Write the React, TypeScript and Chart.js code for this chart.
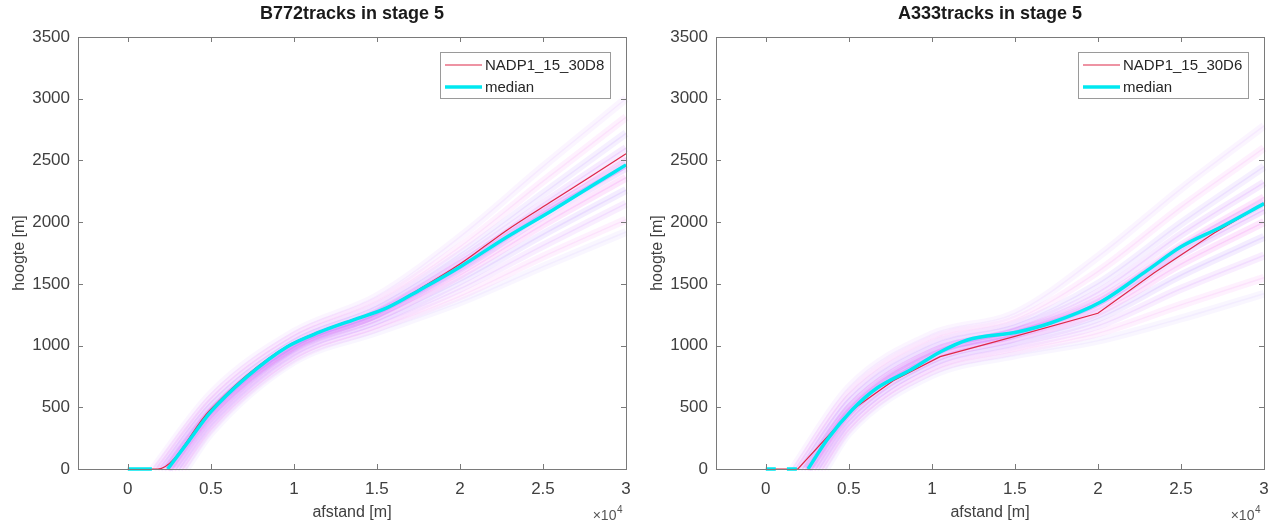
import React, { useEffect, useRef } from 'react';
import { Chart, registerables } from 'chart.js';

Chart.register(...registerables);

// ---------- shared axis data ----------
const X_MIN = -3000;
const X_MAX = 30000;
const X_TICKS = [0, 5000, 10000, 15000, 20000, 25000, 30000];
const Y_MIN = 0;
const Y_MAX = 3500;
const Y_STEP = 500;
const X_LABEL = 'afstand [m]';
const Y_LABEL = 'hoogte [m]';
const MEDIAN_LABEL = 'median';
// x positions shared by the individual track samples
const FAN_X = [5000, 10000, 15000, 20000, 25000, 30000];

// ---------- B772 ----------
const B772_TITLE = 'B772tracks in stage 5';
const B772_NADP_LABEL = 'NADP1_15_30D8';
const B772_MEDIAN_X = [0, 1450, 1900, 2400, 3700, 4940, 7170, 9580, 11570, 13550, 15600, 17590, 20000, 22830, 25600, 27830, 30000];
const B772_MEDIAN_Y = [0, 0, null, 0, 232, 454, 746, 989, 1110, 1207, 1305, 1451, 1637, 1880, 2099, 2285, 2464];
const B772_NADP_X = [0, 1800, 4900, 7170, 9580, 11570, 13550, 15600, 17590, 20000, 22830, 25600, 27830, 30000];
const B772_NADP_Y = [0, 0, 470, 760, 995, 1115, 1210, 1310, 1460, 1660, 1935, 2175, 2365, 2555];
const B772_FAN_START = [1500, 1700, 1900, 2100, 2300, 2400, 2500, 2700, 2900, 3100, 3300, 3500];
const B772_FAN_Y = [
  [610, 1110, 1400, 1880, 2450, 3000],
  [570, 1080, 1360, 1800, 2330, 2850],
  [540, 1050, 1320, 1740, 2230, 2720],
  [500, 1020, 1290, 1690, 2150, 2600],
  [470, 1000, 1270, 1660, 2100, 2520],
  [455, 990, 1255, 1635, 2075, 2470],
  [440, 985, 1250, 1620, 2050, 2440],
  [410, 965, 1225, 1570, 1980, 2360],
  [380, 945, 1200, 1520, 1900, 2260],
  [350, 920, 1170, 1460, 1810, 2150],
  [320, 890, 1140, 1400, 1720, 2020],
  [290, 870, 1110, 1350, 1640, 1920],
];

// ---------- A333 ----------
const A333_TITLE = 'A333tracks in stage 5';
const A333_NADP_LABEL = 'NADP1_15_30D6';
const A333_MEDIAN_X = [0, 600, 900, 1270, 1870, 2200, 2540, 3680, 5190, 6700, 8700, 10500, 12140, 15150, 17150, 20170, 23010, 25000, 27420, 30000];
const A333_MEDIAN_Y = [0, 0, null, 0, 0, null, 0, 235, 478, 656, 802, 948, 1045, 1110, 1183, 1353, 1613, 1800, 1961, 2150];
const A333_NADP_X = [0, 1930, 5190, 7670, 10500, 15000, 20000, 23370, 27000, 30000];
const A333_NADP_Y = [0, 0, 478, 715, 910, 1075, 1262, 1588, 1912, 2150];
const A333_FAN_START = [1600, 1800, 2000, 2200, 2400, 2500, 2600, 2800, 3000, 3200, 3400, 3600];
const A333_FAN_Y = [
  [660, 1090, 1260, 1720, 2270, 2780],
  [610, 1050, 1210, 1600, 2120, 2600],
  [570, 1010, 1170, 1500, 1990, 2450],
  [530, 975, 1140, 1430, 1900, 2320],
  [490, 945, 1115, 1370, 1810, 2200],
  [475, 935, 1110, 1350, 1790, 2160],
  [455, 915, 1090, 1320, 1740, 2100],
  [420, 885, 1060, 1270, 1660, 2000],
  [390, 855, 1030, 1220, 1570, 1880],
  [355, 825, 995, 1160, 1460, 1730],
  [320, 790, 955, 1100, 1330, 1550],
  [290, 760, 920, 1040, 1220, 1420],
];

// ---------- styles ----------
const FONT = '"Liberation Sans", Arial, Helvetica, sans-serif';
const CYAN = 'rgb(0, 232, 240)';
const RED = 'rgb(222, 40, 72)';
const FAN_RGB = ['200,110,255', '240,110,240', '175,130,255'];
const AXIS_COLOR = '#7a7a7a';
const TEXT_COLOR = '#404040';

type Panel = {
  title: string;
  nadpLabel: string;
  medianX: number[];
  medianY: (number | null)[];
  nadpX: number[];
  nadpY: number[];
  fanStart: number[];
  fanY: number[][];
  nadpSmooth: boolean;
};

const PANELS: Panel[] = [
  { title: B772_TITLE, nadpLabel: B772_NADP_LABEL, medianX: B772_MEDIAN_X, medianY: B772_MEDIAN_Y, nadpX: B772_NADP_X, nadpY: B772_NADP_Y, fanStart: B772_FAN_START, fanY: B772_FAN_Y, nadpSmooth: true },
  { title: A333_TITLE, nadpLabel: A333_NADP_LABEL, medianX: A333_MEDIAN_X, medianY: A333_MEDIAN_Y, nadpX: A333_NADP_X, nadpY: A333_NADP_Y, fanStart: A333_FAN_START, fanY: A333_FAN_Y, nadpSmooth: false },
];

const zip = (xs: number[], ys: (number | null)[]) => xs.map((x, i) => ({ x, y: ys[i] }));

const framePlugin = {
  id: 'frame',
  afterDatasetsDraw(chart: any) {
    const { ctx, chartArea: a, scales } = chart;
    ctx.save();
    ctx.strokeStyle = AXIS_COLOR;
    ctx.lineWidth = 1;
    ctx.strokeRect(Math.round(a.left) + 0.5, Math.round(a.top) + 0.5, Math.round(a.right - a.left), Math.round(a.bottom - a.top));
    const tl = 5;
    ctx.beginPath();
    scales.x.ticks.forEach((t: any) => {
      const px = Math.round(scales.x.getPixelForValue(t.value)) + 0.5;
      ctx.moveTo(px, a.bottom); ctx.lineTo(px, a.bottom - tl);
      ctx.moveTo(px, a.top); ctx.lineTo(px, a.top + tl);
    });
    scales.y.ticks.forEach((t: any) => {
      const py = Math.round(scales.y.getPixelForValue(t.value)) + 0.5;
      ctx.moveTo(a.left, py); ctx.lineTo(a.left + tl, py);
      ctx.moveTo(a.right, py); ctx.lineTo(a.right - tl, py);
    });
    ctx.stroke();
    ctx.restore();
  },
};

const legendPlugin = {
  id: 'insideLegend',
  afterDraw(chart: any) {
    const { ctx, chartArea: a } = chart;
    const items = chart.data.datasets.filter((d: any) => d.inLegend).sort((p: any, q: any) => p.legendOrder - q.legendOrder);
    ctx.save();
    ctx.font = `15px ${FONT}`;
    const textW = Math.max(...items.map((it: any) => ctx.measureText(it.label).width));
    const boxW = Math.round(45 + textW + 6);
    const boxH = 46;
    const right = Math.round(a.right - 16);
    const left = right - boxW;
    const top = Math.round(a.top + 15);
    ctx.fillStyle = '#ffffff';
    ctx.fillRect(left, top, boxW, boxH);
    ctx.strokeStyle = '#9a9a9a';
    ctx.lineWidth = 1;
    ctx.strokeRect(left + 0.5, top + 0.5, boxW, boxH);
    items.forEach((it: any, k: number) => {
      const y = top + 13 + k * 22;
      ctx.strokeStyle = it.borderColor;
      ctx.lineWidth = it.borderWidth;
      ctx.beginPath();
      ctx.moveTo(left + 5, y);
      ctx.lineTo(left + 42, y);
      ctx.stroke();
      ctx.fillStyle = '#262626';
      ctx.textBaseline = 'middle';
      ctx.textAlign = 'left';
      ctx.fillText(it.label, left + 45, y + 1);
    });
    ctx.restore();
  },
};

const exponentPlugin = {
  id: 'exponent',
  afterDraw(chart: any) {
    const { ctx, chartArea: a } = chart;
    ctx.save();
    ctx.fillStyle = '#555555';
    ctx.textBaseline = 'alphabetic';
    ctx.textAlign = 'left';
    ctx.font = `10px ${FONT}`;
    const supW = ctx.measureText('4').width;
    ctx.font = `14px ${FONT}`;
    const baseW = ctx.measureText('×10').width;
    const x0 = a.right - 4 - supW - baseW;
    const yb = 520;
    ctx.fillText('×10', x0, yb);
    ctx.font = `10px ${FONT}`;
    ctx.fillText('4', x0 + baseW + 0.5, yb - 7);
    ctx.restore();
  },
};

function fanColor(i: number, n: number, boost: number) {
  const mid = (n - 1) / 2;
  const d = Math.abs(i - mid) / mid; // 0 at core, 1 at edge
  const alpha = (0.2 - 0.13 * d) * boost;
  return `rgba(${FAN_RGB[i % FAN_RGB.length]},${alpha.toFixed(3)})`;
}

function buildConfig(p: Panel, padRight: number): any {
  const datasets: any[] = [];
  datasets.push({
    label: MEDIAN_LABEL, inLegend: true, legendOrder: 1,
    data: zip(p.medianX, p.medianY), borderColor: CYAN, borderWidth: 3.5,
    pointRadius: 0, cubicInterpolationMode: 'monotone', spanGaps: false, order: 0, clip: 5,
  });
  datasets.push({
    label: p.nadpLabel, inLegend: true, legendOrder: 0,
    data: zip(p.nadpX, p.nadpY), borderColor: RED, borderWidth: 1.2,
    pointRadius: 0, cubicInterpolationMode: p.nadpSmooth ? 'monotone' : 'default', tension: 0, order: 1, clip: 5,
  });
  const n = p.fanStart.length;
  p.fanStart.forEach((s, i) => {
    const pts = [{ x: s, y: 0 }, ...FAN_X.map((x, j) => ({ x, y: p.fanY[i][j] }))];
    datasets.push({
      label: 'track ' + (i + 1), inLegend: false, data: pts,
      borderColor: fanColor(i, n, 1), borderWidth: 8,
      pointRadius: 0, cubicInterpolationMode: 'monotone', order: 3, clip: 5,
    });
    datasets.push({
      label: 'track ' + (i + 1) + ' core', inLegend: false, data: pts,
      borderColor: fanColor(i, n, 1.2), borderWidth: 1.5,
      pointRadius: 0, cubicInterpolationMode: 'monotone', order: 2, clip: 5,
    });
  });
  return {
    type: 'line',
    data: { datasets },
    plugins: [framePlugin, legendPlugin, exponentPlugin],
    options: {
      animation: false,
      responsive: false,
      events: [],
      layout: { padding: { top: 0, right: padRight, bottom: 0, left: 0 } },
      plugins: {
        legend: { display: false },
        tooltip: { enabled: false },
        title: {
          display: true, text: p.title, fullSize: false, color: '#1a1a1a',
          font: { family: FONT, size: 18, weight: 'bold' },
          padding: { top: 3, bottom: 12.4 },
        },
      },
      scales: {
        x: {
          type: 'linear', min: X_MIN, max: X_MAX,
          afterBuildTicks: (scale: any) => { scale.ticks = X_TICKS.map((v) => ({ value: v })); },
          afterFit: (scale: any) => { scale.height = 56; scale.paddingLeft = 0; scale.paddingRight = 0; },
          grid: { display: false, drawTicks: false },
          border: { display: false },
          ticks: {
            color: TEXT_COLOR, padding: 10, maxRotation: 0, autoSkip: false,
            font: { family: FONT, size: 17 },
            callback: (v: any) => String(Number(v) / 10000),
          },
          title: { display: true, text: X_LABEL, color: TEXT_COLOR, font: { family: FONT, size: 16 }, padding: { top: 0, bottom: 3 } },
        },
        y: {
          type: 'linear', min: Y_MIN, max: Y_MAX,
          afterFit: (scale: any) => { scale.width = 78; },
          grid: { display: false, drawTicks: false },
          border: { display: false },
          ticks: {
            color: TEXT_COLOR, padding: 8, stepSize: Y_STEP,
            font: { family: FONT, size: 17 },
            callback: (v: any) => String(v),
          },
          title: { display: true, text: Y_LABEL, color: TEXT_COLOR, font: { family: FONT, size: 16 }, padding: { top: 10, bottom: 0 } },
        },
      },
    },
  };
}

function PanelChart({ panel, width, padRight }: { panel: Panel; width: number; padRight: number }) {
  const ref = useRef<HTMLCanvasElement | null>(null);
  useEffect(() => {
    if (!ref.current) return;
    const chart = new Chart(ref.current, buildConfig(panel, padRight));
    return () => chart.destroy();
  }, [panel, padRight]);
  return <canvas ref={ref} width={width} height={525} style={{ display: 'block', width, height: 525 }} />;
}

export default function App() {
  return (
    <div style={{ position: 'absolute', left: 0, top: 0, width: 1274, height: 525, background: '#ffffff' }}>
      <div style={{ position: 'absolute', left: 0, top: 0, width: 638, height: 525 }}>
        <PanelChart panel={PANELS[0]} width={638} padRight={12} />
      </div>
      <div style={{ position: 'absolute', left: 638, top: 0, width: 636, height: 525 }}>
        <PanelChart panel={PANELS[1]} width={636} padRight={10} />
      </div>
    </div>
  );
}
